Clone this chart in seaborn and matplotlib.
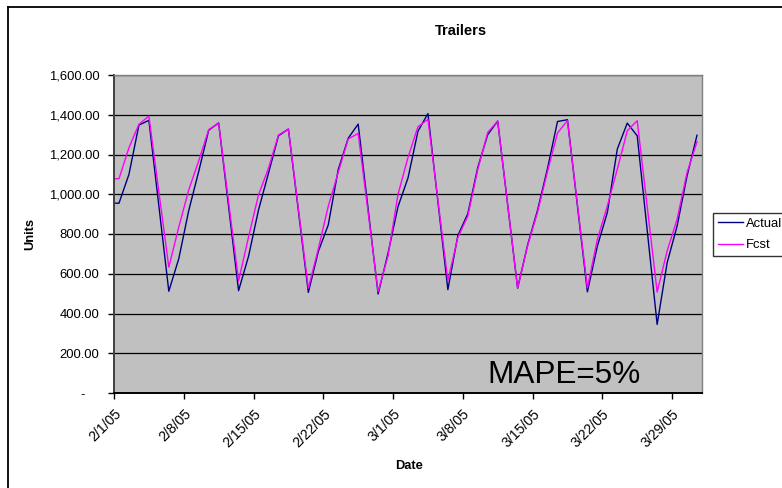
import matplotlib
matplotlib.use("Agg")
import matplotlib.pyplot as plt
from matplotlib.lines import Line2D
import pandas as pd
import seaborn as sns

# Daily trailer units (Saturdays are not reported)
dates = [
    "1/31/05", "2/1/05", "2/2/05", "2/3/05", "2/4/05",
    "2/6/05", "2/7/05", "2/8/05", "2/9/05", "2/10/05", "2/11/05",
    "2/13/05", "2/14/05", "2/15/05", "2/16/05", "2/17/05", "2/18/05",
    "2/20/05", "2/21/05", "2/22/05", "2/23/05", "2/24/05", "2/25/05",
    "2/27/05", "2/28/05", "3/1/05", "3/2/05", "3/3/05", "3/4/05",
    "3/6/05", "3/7/05", "3/8/05", "3/9/05", "3/10/05", "3/11/05",
    "3/13/05", "3/14/05", "3/15/05", "3/16/05", "3/17/05", "3/18/05",
    "3/20/05", "3/21/05", "3/22/05", "3/23/05", "3/24/05", "3/25/05",
    "3/27/05", "3/28/05", "3/29/05", "3/30/05", "3/31/05",
]
actual = [
    955, 955, 1100, 1348, 1372,
    512, 676, 918, 1115, 1322, 1359,
    515, 688, 921, 1106, 1294, 1328,
    506, 712, 846, 1124, 1282, 1353,
    498, 704, 938, 1082, 1317, 1406,
    520, 792, 902, 1135, 1300, 1368,
    527, 745, 920, 1130, 1366, 1375,
    509, 739, 908, 1227, 1358, 1294,
    345, 655, 840, 1092, 1297,
]
fcst = [
    1078, 1078, 1234, 1352, 1393,
    633, 835, 1022, 1168, 1325, 1357,
    564, 785, 997, 1131, 1298, 1328,
    527, 725, 940, 1110, 1278, 1306,
    510, 690, 1000, 1185, 1340, 1377,
    565, 782, 890, 1125, 1311, 1368,
    528, 740, 910, 1115, 1308, 1370,
    529, 773, 941, 1126, 1319, 1370,
    508, 714, 874, 1109, 1264,
]
x_tick_labels = ["2/1/05", "2/8/05", "2/15/05", "2/22/05", "3/1/05",
                 "3/8/05", "3/15/05", "3/22/05", "3/29/05"]
y_tick_values = [0, 200, 400, 600, 800, 1000, 1200, 1400, 1600]
y_tick_labels = ["-    ", "200.00", "400.00", "600.00", "800.00",
                 "1,000.00", "1,200.00", "1,400.00", "1,600.00"]
series_colors = {"Actual": "#000080", "Fcst": "#FF00FF"}

plt.rcParams["font.family"] = ["Liberation Sans", "DejaVu Sans"]

# Each day is plotted in the middle of its slot on the date axis
df = pd.DataFrame({
    "Date": pd.to_datetime(dates, format="%m/%d/%y") + pd.Timedelta(hours=12),
    "Actual": actual,
    "Fcst": fcst,
})
long_df = df.melt(id_vars="Date", var_name="Series", value_name="Units")

W, H = 782, 488
fig = plt.figure(figsize=(W / 100, H / 100), dpi=100)
fig.patch.set_facecolor("white")

# Chart-area frame
fig.add_artist(Line2D([8 / W, 8 / W], [1 - 7 / H, 0], transform=fig.transFigure,
                      color="black", lw=1.3))
fig.add_artist(Line2D([8 / W, 1], [1 - 7 / H, 1 - 7 / H], transform=fig.transFigure,
                      color="black", lw=1.3))

ax = fig.add_axes([114 / W, 95 / H, 588 / W, 318 / H])
ax.set_facecolor("#C0C0C0")
ax.set_axisbelow(True)

sns.lineplot(data=long_df, x="Date", y="Units", hue="Series",
             palette=series_colors, estimator=None, linewidth=1.0,
             ax=ax, legend=False)

ax.set_xlim(pd.Timestamp("2005-02-01"), pd.Timestamp("2005-04-01"))
ax.set_ylim(0, 1600)

ax.set_yticks(y_tick_values, y_tick_labels, fontsize=9.4)
x_ticks = pd.to_datetime(x_tick_labels, format="%m/%d/%y")
ax.set_xticks(x_ticks)
ax.set_xticklabels(x_tick_labels, fontsize=10.2, rotation=45,
                   ha="right", va="top", rotation_mode="anchor")

ax.tick_params(axis="y", direction="out", length=4, width=1, pad=6.5, colors="black")
ax.tick_params(axis="x", direction="out", length=4, width=1, pad=6, colors="black")

ax.grid(axis="y", color="black", lw=0.9)
ax.grid(axis="x", visible=False)

for side in ("top", "right"):
    ax.spines[side].set_color("#808080")
    ax.spines[side].set_linewidth(1.0)
ax.spines["left"].set_color("#404040")
ax.spines["left"].set_linewidth(1.4)
ax.spines["bottom"].set_color("black")
ax.spines["bottom"].set_linewidth(1.4)

ax.set_xlabel("")
ax.set_ylabel("")
fig.text(409 / W, 1 - 466 / H, "Date", ha="center", va="center",
         fontsize=9.3, fontweight="bold")
fig.text(30 / W, 1 - 234 / H, "Units", ha="center", va="center",
         fontsize=9.3, fontweight="bold", rotation=90)
fig.text(461 / W, 1 - 31 / H, "Trailers", ha="center", va="center",
         fontsize=10.6, fontweight="bold")

ax.text(0.7645, 0.031, "MAPE=5%", transform=ax.transAxes, ha="center",
        va="baseline", fontsize=22.7, color="black")

handles = [Line2D([], [], color=series_colors[s], lw=1.0) for s in ("Actual", "Fcst")]
leg = fig.legend(handles, ["Actual", "Fcst"], loc="upper left",
                 bbox_to_anchor=(713 / W, 1 - 212.5 / H),
                 bbox_transform=fig.transFigure, fontsize=9.4,
                 frameon=True, fancybox=False, shadow=False,
                 handlelength=1.9, handletextpad=0.25, labelspacing=0.7,
                 borderpad=0.4, borderaxespad=0)
leg.get_frame().set_edgecolor("black")
leg.get_frame().set_linewidth(1.0)
leg.get_frame().set_facecolor("white")

fig.savefig("out.png", dpi=100)
